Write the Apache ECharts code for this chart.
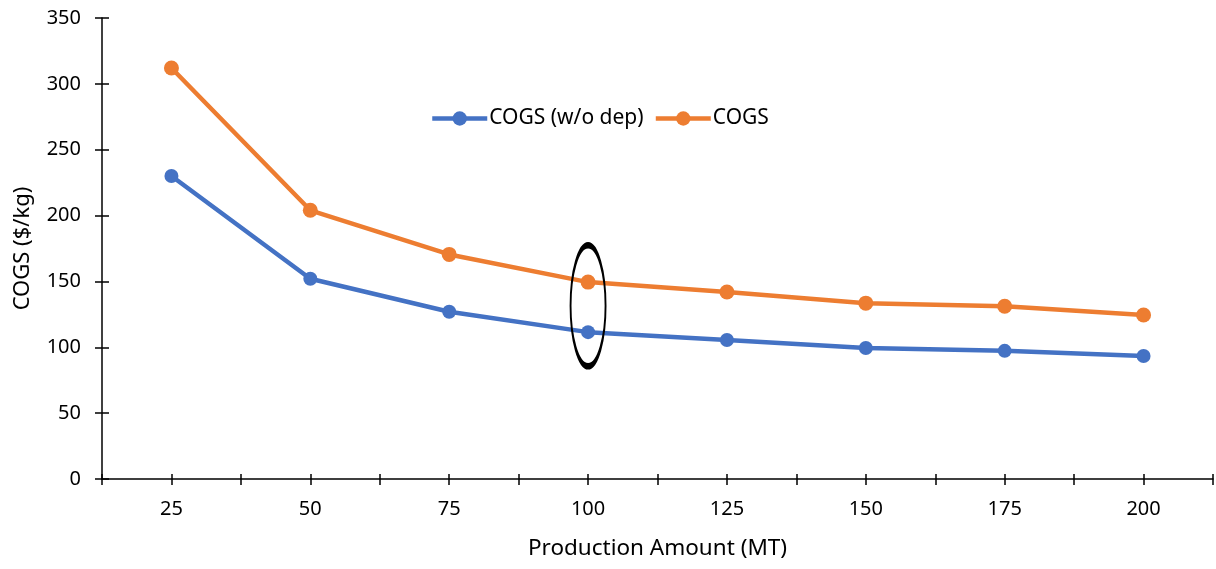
<!DOCTYPE html>
<html><head><meta charset="utf-8">
<script src="https://cdn.jsdelivr.net/npm/echarts@6/dist/echarts.min.js"></script>
<style>html,body{margin:0;padding:0;background:#fff}#c{width:1216px;height:569px}</style>
</head><body><div id="c"></div>
<script>
const categories = [25, 50, 75, 100, 125, 150, 175, 200];
const cogsNoDep = [230, 152, 127, 111.5, 105.5, 99.5, 97.3, 93.4];
const cogs = [312, 204, 170.5, 149.5, 142, 133.5, 131.2, 124.5];
const yTicks = [0, 50, 100, 150, 200, 250, 300, 350];
const seriesNames = ['COGS (w/o dep)', 'COGS'];
const highlight = {x: 100, y: 131.5};

const font = 'Noto Sans';
const chart = echarts.init(document.getElementById('c'));
const toPairs = vals => categories.map((c, i) => [c, vals[i]]);
const axisBase = {min: 12.5, max: 212.5, interval: 12.5};
chart.setOption({
  animation: false,
  grid: {left: 102, right: 3, top: 18, bottom: 90, containLabel: false},
  legend: {
    top: 103, left: 425, itemWidth: 55, itemHeight: 18, itemGap: 10,
    lineStyle: {width: 4.5},
    textStyle: {fontFamily: font, fontSize: 21, color: '#000', padding: [0,0,0,-3]},
    data: seriesNames
  },
  xAxis: [{
    type: 'value', ...axisBase,
    name: 'Production Amount (MT)', nameLocation: 'middle', nameGap: 58,
    nameTextStyle: {fontFamily: font, fontSize: 22.5, color: '#000'},
    axisLine: {lineStyle: {color: '#000', width: 1.5}},
    axisTick: {show: true, length: 6, lineStyle: {color: '#000', width: 1.5}},
    axisLabel: {fontFamily: font, fontSize: 20, color: '#000', margin: 20,
      formatter: v => (v % 25 === 0 && v >= 25 && v <= 200) ? String(v) : ''},
    splitLine: {show: false}
  }, {
    type: 'value', ...axisBase, position: 'bottom',
    axisLine: {show: false}, axisLabel: {show: false}, splitLine: {show: false},
    axisTick: {show: true, inside: true, length: 5, lineStyle: {color: '#000', width: 1.5}}
  }],
  yAxis: [{
    type: 'value', min: yTicks[0], max: yTicks[yTicks.length-1], interval: 50,
    name: 'COGS ($/kg)', nameLocation: 'middle', nameGap: 68,
    nameTextStyle: {fontFamily: font, fontSize: 22, color: '#000'},
    axisLine: {show: true, lineStyle: {color: '#000', width: 1.5}},
    axisTick: {show: true, length: 7, lineStyle: {color: '#000', width: 1.5}},
    axisLabel: {fontFamily: font, fontSize: 20, color: '#000', margin: 21},
    splitLine: {show: false}
  }, {
    type: 'value', min: yTicks[0], max: yTicks[yTicks.length-1], interval: 50, position: 'left',
    axisLine: {show: false}, axisLabel: {show: false}, splitLine: {show: false},
    axisTick: {show: true, inside: true, length: 7, lineStyle: {color: '#000', width: 1.5}}
  }],
  series: [{
    name: seriesNames[0], type: 'line', data: toPairs(cogsNoDep),
    symbol: 'circle', symbolSize: 14,
    lineStyle: {width: 4.5, color: '#4472C4'}, itemStyle: {color: '#4472C4'}
  }, {
    name: seriesNames[1], type: 'line', data: toPairs(cogs),
    symbol: 'circle', symbolSize: 15,
    lineStyle: {width: 4.5, color: '#ED7D31'}, itemStyle: {color: '#ED7D31'},
    markPoint: {
      symbol: 'circle', symbolSize: [35, 121], silent: true,
      label: {show: false},
      itemStyle: {color: 'rgba(0,0,0,0)', borderColor: '#000', borderWidth: 3.5},
      data: [{coord: [highlight.x, highlight.y]}]
    }
  }]
});
</script></body></html>
